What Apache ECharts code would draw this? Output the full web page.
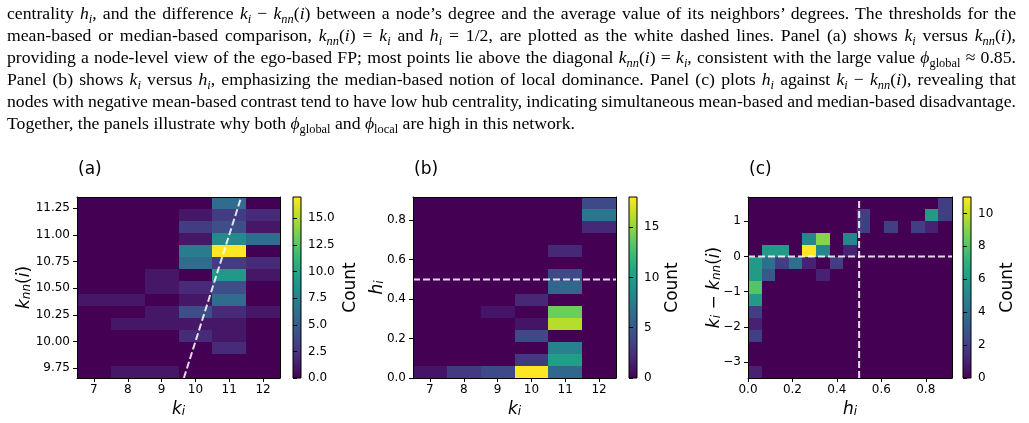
<!DOCTYPE html>
<html>
<head>
<meta charset="utf-8">
<script src="https://cdn.jsdelivr.net/npm/echarts@6.0.0/dist/echarts.min.js"></script>
<style>
  html, body { margin: 0; padding: 0; background: #fff; }
  #chart { position: absolute; left: 0; top: 0; width: 1029px; height: 423px; }
  #caption {
    position: absolute; left: 7px; top: 2px; width: 1009px;
    font-family: 'Liberation Serif', 'Times New Roman', serif;
    font-size: 17.7px; line-height: 22px; color: #000;
  }
  #caption div { text-align: justify; text-align-last: justify; white-space: nowrap; }
  #caption div.tight { word-spacing: -0.6px; }
  #caption div.last { text-align: left; text-align-last: left; }
  #caption sub { font-size: 70%; line-height: 0; vertical-align: -0.3em; }
  #caption sub.up { font-style: normal; }
</style>
</head>
<body>
<div id="chart"></div>
<div id="caption">
  <div>centrality <i>h<sub>i</sub></i>, and the difference <i>k<sub>i</sub></i> − <i>k<sub>nn</sub></i>(<i>i</i>) between a node’s degree and the average value of its neighbors’ degrees. The thresholds for the</div>
  <div>mean-based or median-based comparison, <i>k<sub>nn</sub></i>(<i>i</i>) = <i>k<sub>i</sub></i> and <i>h<sub>i</sub></i> = 1/2, are plotted as the white dashed lines. Panel (a) shows <i>k<sub>i</sub></i> versus <i>k<sub>nn</sub></i>(<i>i</i>),</div>
  <div>providing a node-level view of the ego-based FP; most points lie above the diagonal <i>k<sub>nn</sub></i>(<i>i</i>) = <i>k<sub>i</sub></i>, consistent with the large value <i>ϕ</i><sub class="up">global</sub> ≈ 0.85.</div>
  <div>Panel (b) shows <i>k<sub>i</sub></i> versus <i>h<sub>i</sub></i>, emphasizing the median-based notion of local dominance. Panel (c) plots <i>h<sub>i</sub></i> against <i>k<sub>i</sub></i> − <i>k<sub>nn</sub></i>(<i>i</i>), revealing that</div>
  <div class="tight">nodes with negative mean-based contrast tend to have low hub centrality, indicating simultaneous mean-based and median-based disadvantage.</div>
  <div class="last">Together, the panels illustrate why both <i>ϕ</i><sub class="up">global</sub> and <i>ϕ</i><sub class="up">local</sub> are high in this network.</div>
</div>
<script>
// node degree values (columns of panels a and b)
const kValues = [7, 8, 9, 10, 11, 12];
// data ranges split into 15 bins each
const knnRange = [9.659, 11.354];
const hRange = [0, 0.918];
const diffRange = [-3.45, 1.69];
const binCount = 15;

// counts, rows listed from the top of the panel down
// panel (a): k_nn(i) rows, k_i columns
const countsA = [
  [0, 0, 0, 0, 6, 0],
  [0, 0, 0, 1, 3, 2],
  [0, 0, 0, 3, 4, 1],
  [0, 0, 0, 1, 8, 6],
  [0, 0, 0, 7, 17, 0],
  [0, 0, 0, 6, 3, 2],
  [0, 0, 1, 0, 9, 1],
  [0, 0, 1, 2, 4, 0],
  [1, 1, 0, 1, 6, 0],
  [0, 0, 1, 4, 2, 1],
  [0, 1, 1, 1, 1, 0],
  [0, 0, 0, 2, 1, 0],
  [0, 0, 0, 0, 2, 0],
  [0, 0, 0, 0, 0, 0],
  [0, 1, 1, 0, 0, 0]
];
// panel (b): h_i rows, k_i columns
const countsB = [
  [0, 0, 0, 0, 0, 4],
  [0, 0, 0, 0, 0, 7],
  [0, 0, 0, 0, 0, 2],
  [0, 0, 0, 0, 0, 0],
  [0, 0, 0, 0, 2, 0],
  [0, 0, 0, 0, 0, 0],
  [0, 0, 0, 0, 4, 0],
  [0, 0, 0, 0, 6, 0],
  [0, 0, 0, 2, 0, 0],
  [0, 0, 1, 0, 14, 0],
  [0, 0, 0, 1, 16, 0],
  [0, 0, 0, 4, 0, 0],
  [0, 0, 0, 0, 8, 0],
  [0, 0, 0, 3, 10, 0],
  [1, 3, 4, 18, 6, 0]
];
// panel (c): k_i - k_nn(i) rows, h_i columns
const countsC = [
  [0, 0, 0, 0, 0, 0, 0, 0, 0, 0, 0, 0, 0, 0, 2],
  [0, 0, 0, 0, 0, 0, 0, 0, 2, 0, 0, 0, 0, 6, 2],
  [0, 0, 0, 0, 0, 0, 0, 0, 2, 0, 2, 0, 2, 1, 0],
  [0, 0, 0, 0, 5, 9, 0, 5, 0, 0, 0, 0, 0, 0, 0],
  [0, 6, 6, 0, 11, 5, 0, 1, 0, 0, 0, 0, 0, 0, 0],
  [6, 4, 2, 4, 1, 0, 2, 0, 0, 0, 0, 0, 0, 0, 0],
  [6, 3, 0, 0, 0, 1, 0, 0, 0, 0, 0, 0, 0, 0, 0],
  [8, 0, 0, 0, 0, 0, 0, 0, 0, 0, 0, 0, 0, 0, 0],
  [6, 0, 0, 0, 0, 0, 0, 0, 0, 0, 0, 0, 0, 0, 0],
  [2, 0, 0, 0, 0, 0, 0, 0, 0, 0, 0, 0, 0, 0, 0],
  [1, 0, 0, 0, 0, 0, 0, 0, 0, 0, 0, 0, 0, 0, 0],
  [2, 0, 0, 0, 0, 0, 0, 0, 0, 0, 0, 0, 0, 0, 0],
  [0, 0, 0, 0, 0, 0, 0, 0, 0, 0, 0, 0, 0, 0, 0],
  [0, 0, 0, 0, 0, 0, 0, 0, 0, 0, 0, 0, 0, 0, 0],
  [1, 0, 0, 0, 0, 0, 0, 0, 0, 0, 0, 0, 0, 0, 0]
];

// thresholds (white dashed lines)
const hThreshold = 0.5;
const diffThreshold = 0;

// tick labels
const ticksKnn = [9.75, 10, 10.25, 10.5, 10.75, 11, 11.25];
const ticksH = [0, 0.2, 0.4, 0.6, 0.8];
const ticksDiff = [-3, -2, -1, 0, 1];
const ticksCountA = [0, 2.5, 5, 7.5, 10, 12.5, 15];
const ticksCountB = [0, 5, 10, 15];
const ticksCountC = [0, 2, 4, 6, 8, 10];

const viridis = ['#440154', '#482475', '#414487', '#355f8d', '#2a788e', '#21918c',
  '#22a884', '#44bf70', '#7ad151', '#bddf26', '#fde725'];
const textFont = 'DejaVu Sans';
const dashStyle = { color: 'rgba(255,255,255,0.85)', width: 2, type: [7, 3] };

function binEdges(range, n) {
  const step = (range[1] - range[0]) / n;
  return Array.from({ length: n + 1 }, (_, i) => range[0] + i * step);
}

function centredEdges(values) {
  const edges = values.map((v) => v - 0.5);
  edges.push(values[values.length - 1] + 0.5);
  return edges;
}

// one item per cell: [x0, x1, y0, y1, count]
function toCells(counts, xEdges, yEdges) {
  const cells = [];
  const nRows = counts.length;
  counts.forEach((row, r) => {
    const yi = nRows - 1 - r;
    row.forEach((c, j) => {
      cells.push([xEdges[j], xEdges[j + 1], yEdges[yi], yEdges[yi + 1], c]);
    });
  });
  return cells;
}

function maxCount(counts) {
  return Math.max(...counts.map((row) => Math.max(...row)));
}

function renderCell(params, api) {
  const p0 = api.coord([api.value(0), api.value(3)]);
  const p1 = api.coord([api.value(1), api.value(2)]);
  const x0 = Math.round(p0[0]);
  const y0 = Math.round(p0[1]);
  return {
    type: 'rect',
    shape: { x: x0, y: y0, width: Math.round(p1[0]) - x0, height: Math.round(p1[1]) - y0 },
    style: { fill: api.visual('color') }
  };
}

function renderColorbar(params, api) {
  const p0 = api.coord([0, api.value(1)]);
  const p1 = api.coord([1, api.value(0)]);
  const stops = viridis.map((c, i) => ({ offset: i / (viridis.length - 1), color: c }));
  return {
    type: 'rect',
    shape: { x: p0[0], y: p0[1], width: p1[0] - p0[0], height: p1[1] - p0[1] },
    style: {
      fill: new echarts.graphic.LinearGradient(0, 1, 0, 0, stops),
      stroke: '#000',
      lineWidth: 1
    }
  };
}

const nameRich = {
  k: { fontFamily: textFont, fontStyle: 'italic', fontSize: 17, color: '#000', verticalAlign: 'bottom', lineHeight: 22 },
  s: { fontFamily: textFont, fontStyle: 'italic', fontSize: 12, color: '#000', verticalAlign: 'bottom', lineHeight: 15 },
  n: { fontFamily: textFont, fontSize: 17, color: '#000', verticalAlign: 'bottom', lineHeight: 22 }
};

const fixed = (d) => (v) => v.toFixed(d);
const minusFmt = (v) => (v < 0 ? '\u2212' + Math.abs(v) : String(v));

const panels = [
  {
    title: '(a)', left: 77, width: 203, cbLeft: 293,
    xRange: [6.5, 12.5], xTicks: kValues, xFmt: String,
    yRange: knnRange, yTicks: ticksKnn, yFmt: fixed(2),
    xEdges: centredEdges(kValues), yEdges: binEdges(knnRange, binCount),
    counts: countsA, cbTicks: ticksCountA, cbFmt: fixed(1),
    xName: '{k|k}{s|i}', yName: '{k|k}{s|nn}{n|(}{k|i}{n|)}', yNameGap: 44, cbNameGap: 41,
    lines: [[[knnRange[0], knnRange[0]], [knnRange[1], knnRange[1]]]]
  },
  {
    title: '(b)', left: 413, width: 203, cbLeft: 629,
    xRange: [6.5, 12.5], xTicks: kValues, xFmt: String,
    yRange: hRange, yTicks: ticksH, yFmt: fixed(1),
    xEdges: centredEdges(kValues), yEdges: binEdges(hRange, binCount),
    counts: countsB, cbTicks: ticksCountB, cbFmt: String,
    xName: '{k|k}{s|i}', yName: '{k|h}{s|i}', yNameGap: 27, cbNameGap: 27,
    lines: [[[6.5, hThreshold], [12.5, hThreshold]]]
  },
  {
    title: '(c)', left: 748, width: 204, cbLeft: 963,
    xRange: hRange, xTicks: ticksH, xFmt: fixed(1),
    yRange: diffRange, yTicks: ticksDiff, yFmt: minusFmt,
    xEdges: binEdges(hRange, binCount), yEdges: binEdges(diffRange, binCount),
    counts: countsC, cbTicks: ticksCountC, cbFmt: String,
    xName: '{k|h}{s|i}', yName: '{k|k}{s|i}{n| \u2212 }{k|k}{s|nn}{n|(}{k|i}{n|)}', yNameGap: 25, cbNameGap: 28,
    lines: [
      [[hThreshold, diffRange[0]], [hThreshold, diffRange[1]]],
      [[hRange[0], diffThreshold], [hRange[1], diffThreshold]]
    ]
  }
];

const plotTop = 197;
const plotHeight = 181;
const black = { color: '#000', width: 1 };
const tickLabel = { fontFamily: textFont, fontSize: 12, color: '#000' };

const option = {
  animation: false,
  title: [],
  grid: [],
  xAxis: [],
  yAxis: [],
  visualMap: [],
  series: []
};

panels.forEach((p) => {
  const gMain = option.grid.length;
  option.grid.push({ left: p.left, top: plotTop, width: p.width, height: plotHeight, outerBoundsMode: 'none' });
  option.grid.push({ left: p.cbLeft, top: plotTop, width: 8, height: plotHeight, outerBoundsMode: 'none' });

  option.title.push({
    text: p.title, left: p.left + 1, top: 161, padding: 0,
    textStyle: { fontFamily: textFont, fontSize: 17, fontWeight: 'normal', color: '#000' }
  });

  const xi = option.xAxis.length;
  const yi = option.yAxis.length;

  option.xAxis.push({
    type: 'value', gridIndex: gMain, min: p.xRange[0], max: p.xRange[1], z: 5,
    axisLine: { onZero: false, lineStyle: black },
    axisTick: { length: 4, lineStyle: black, customValues: p.xTicks },
    axisLabel: Object.assign({ margin: 6, customValues: p.xTicks, formatter: p.xFmt }, tickLabel),
    splitLine: { show: false },
    name: p.xName, nameLocation: 'middle', nameGap: 18, nameMoveOverlap: false,
    nameTextStyle: { rich: nameRich }
  });
  option.xAxis.push({
    type: 'value', gridIndex: gMain, position: 'top', min: p.xRange[0], max: p.xRange[1], z: 5,
    axisLine: { onZero: false, lineStyle: black },
    axisTick: { show: false }, axisLabel: { show: false }, splitLine: { show: false }
  });
  option.xAxis.push({
    type: 'value', gridIndex: gMain + 1, min: 0, max: 1, show: false
  });

  option.yAxis.push({
    type: 'value', gridIndex: gMain, min: p.yRange[0], max: p.yRange[1], z: 5,
    axisLine: { show: true, onZero: false, lineStyle: black },
    axisTick: { show: true, length: 4, lineStyle: black, customValues: p.yTicks },
    axisLabel: Object.assign({ margin: 7, customValues: p.yTicks, formatter: p.yFmt }, tickLabel),
    splitLine: { show: false },
    name: p.yName, nameLocation: 'middle', nameRotate: 90, nameGap: p.yNameGap, nameMoveOverlap: false,
    nameTextStyle: { rich: nameRich }
  });
  option.yAxis.push({
    type: 'value', gridIndex: gMain, position: 'right', min: p.yRange[0], max: p.yRange[1], z: 5,
    axisLine: { show: true, onZero: false, lineStyle: black },
    axisTick: { show: false }, axisLabel: { show: false }, splitLine: { show: false }
  });
  const cbMax = maxCount(p.counts);
  option.yAxis.push({
    type: 'value', gridIndex: gMain + 1, position: 'right', min: 0, max: cbMax, z: 5,
    axisLine: { show: false },
    axisTick: { show: true, length: 4, lineStyle: black, customValues: p.cbTicks },
    axisLabel: Object.assign({ margin: 7, customValues: p.cbTicks, formatter: p.cbFmt }, tickLabel),
    splitLine: { show: false },
    name: 'Count', nameLocation: 'middle', nameRotate: 90, nameGap: p.cbNameGap, nameMoveOverlap: false,
    nameTextStyle: { fontFamily: textFont, fontSize: 17, color: '#000' }
  });

  const si = option.series.length;
  option.series.push({
    type: 'custom', xAxisIndex: xi, yAxisIndex: yi, renderItem: renderCell,
    encode: { x: [0, 1], y: [2, 3] }, data: toCells(p.counts, p.xEdges, p.yEdges), silent: true
  });
  option.visualMap.push({
    type: 'continuous', show: false, seriesIndex: si, dimension: 4,
    min: 0, max: cbMax, inRange: { color: viridis }
  });
  option.series.push({
    type: 'custom', xAxisIndex: xi + 2, yAxisIndex: yi + 2, renderItem: renderColorbar,
    encode: { x: [], y: [0, 1] }, data: [[0, cbMax]], silent: true
  });
  p.lines.forEach((seg) => {
    option.series.push({
      type: 'line', xAxisIndex: xi, yAxisIndex: yi, data: seg, symbol: 'none',
      lineStyle: dashStyle, z: 4, silent: true
    });
  });
});

const chart = echarts.init(document.getElementById('chart'));
chart.setOption(option);
</script>
</body>
</html>
